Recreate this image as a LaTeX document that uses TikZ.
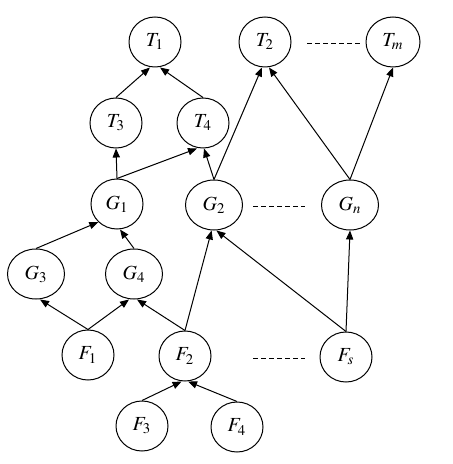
\documentclass[tikz,border=0pt]{standalone}
\usepackage{mathptmx}
\usetikzlibrary{arrows.meta, shapes.geometric}
\tikzset{
  state/.style = {draw, ellipse, inner sep=0pt, minimum width=26pt, minimum height=25pt, line width=0.5pt},
  wide/.style = {minimum width=28.5pt},
  link/.style = {-{Triangle[length=4.5pt, width=3.6pt]}, line width=0.5pt},
  more/.style = {dash pattern=on 2.5pt off 1.5pt, line width=0.5pt}
}

\begin{document}
\begin{tikzpicture}[x=0.5pt, y=-0.5pt]
  \useasboundingbox (0,0) rectangle (452,464);

  %% Targets
  \node[state] (T1) at (155,42) {$T_1$};
  \node[state] (T2) at (265,42) {$T_2$};
  \node[state, minimum width=27pt] (Tm) at (393,42) {$T_m$};
  \node[state] (T3) at (116,123) {$T_3$};
  \node[state] (T4) at (203,123) {$T_4$};

  %% Goals
  \node[state] (G1) at (117,204) {$G_1$};
  \node[state, wide] (G2) at (214,205) {$G_2$};
  \node[state, wide] (Gn) at (350,205) {$G_n$};
  \node[state, wide] (G3) at (36,274) {$G_3$};
  \node[state, wide] (G4) at (134,274) {$G_4$};

  %% Functions
  \node[state] (F1) at (88,355) {$F_1$};
  \node[state] (F2) at (185,356) {$F_2$};
  \node[state] (Fs) at (346,357) {$F_s$};
  \node[state] (F3) at (142,426) {$F_3$};
  \node[state] (F4) at (237,427) {$F_4$};

  % Omitted nodes
  \draw[more] (307,44) -- (361,44);
  \draw[more] (253,207) -- (305,207);
  \draw[more] (253,358) -- (305,358);

  % Links | top
  \draw[link] (T3.north) -- ([xshift=-2.5pt]T1.south);
  \draw[link] (T4.north) -- ([xshift=2.5pt]T1.south);
  \draw[link] (G1.north) -- (T3.south);
  \draw[link] (G1.north) -- ([xshift=-3pt]T4.south);
  \draw[link] (G2.north) -- ([xshift=0.5pt]T4.south);
  \draw[link] (G2.north) -- ([xshift=-1.5pt]T2.south);
  \draw[link] (Gn.north) -- ([xshift=2pt]T2.south);
  \draw[link] (Gn.north) -- (Tm.south);

  % Links | middle
  \draw[link] (G3.north) -- (G1.-136);
  \draw[link] (G4.north) -- ([xshift=1.5pt]G1.south);
  \draw[link] (F1.north) -- ([xshift=2pt]G3.south);
  \draw[link] (F1.north) -- ([xshift=-2.5pt]G4.south);
  \draw[link] (F2.north) -- ([xshift=1.5pt]G4.south);
  \draw[link] (F2.north) -- ([xshift=-1.2pt]G2.south);
  \draw[link] (Fs.north) -- ([xshift=1.2pt]G2.south);
  \draw[link] (Fs.north) -- (Gn.south);

  % Links | bottom
  \draw[link] (F3.north) -- ([xshift=-1.7pt]F2.south);
  \draw[link] (F4.north) -- ([xshift=1.5pt]F2.south);

\end{tikzpicture}
\end{document}
